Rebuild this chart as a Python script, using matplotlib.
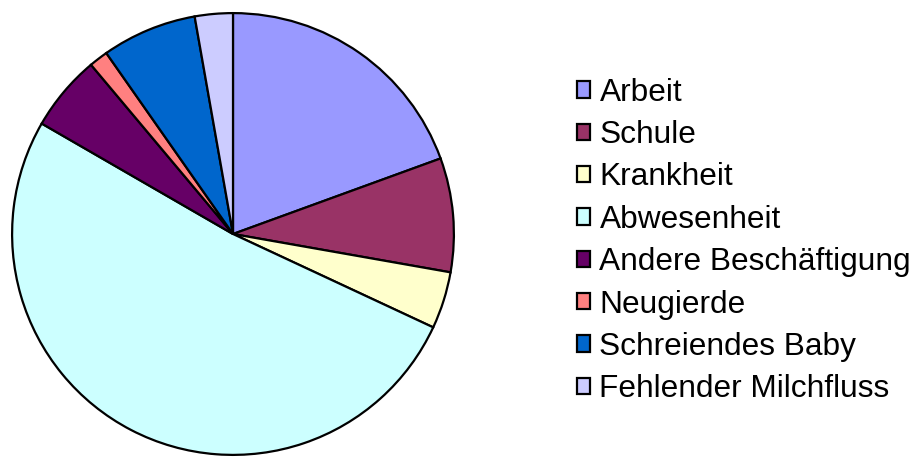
import matplotlib.pyplot as plt

plt.rcParams['font.family'] = ['Liberation Sans', 'DejaVu Sans']

# Daten
labels = ["Arbeit", "Schule", "Krankheit", "Abwesenheit", "Andere Beschäftigung",
          "Neugierde", "Schreiendes Baby", "Fehlender Milchfluss"]
counts = [14, 6, 3, 37, 4, 1, 5, 2]
colors = ["#9999FF", "#993366", "#FFFFCC", "#CCFFFF", "#660066",
          "#FF8080", "#0066CC", "#CCCCFF"]

W, H = 919, 458
fig = plt.figure(figsize=(W / 100, H / 100), dpi=100)
cx, cy, r = 233, 234, 222
ax = fig.add_axes([(cx - r) / W, (H - cy - r) / H, 2 * r / W, 2 * r / H])

wedges, _ = ax.pie(counts, colors=colors, startangle=90, counterclock=False,
                   wedgeprops=dict(edgecolor="black", linewidth=1.6))
ax.set_xlim(-1.005, 1.005)
ax.set_ylim(-1.005, 1.005)
ax.set_aspect("equal")

fig.legend(wedges, labels, loc="center left",
           bbox_to_anchor=(577 / W, 1 - 241 / H), frameon=False,
           fontsize=22.8, handlelength=0.41, handleheight=0.41,
           handletextpad=0.3, labelspacing=0.39, borderpad=0, borderaxespad=0)

fig.savefig("out.png", dpi=100)
